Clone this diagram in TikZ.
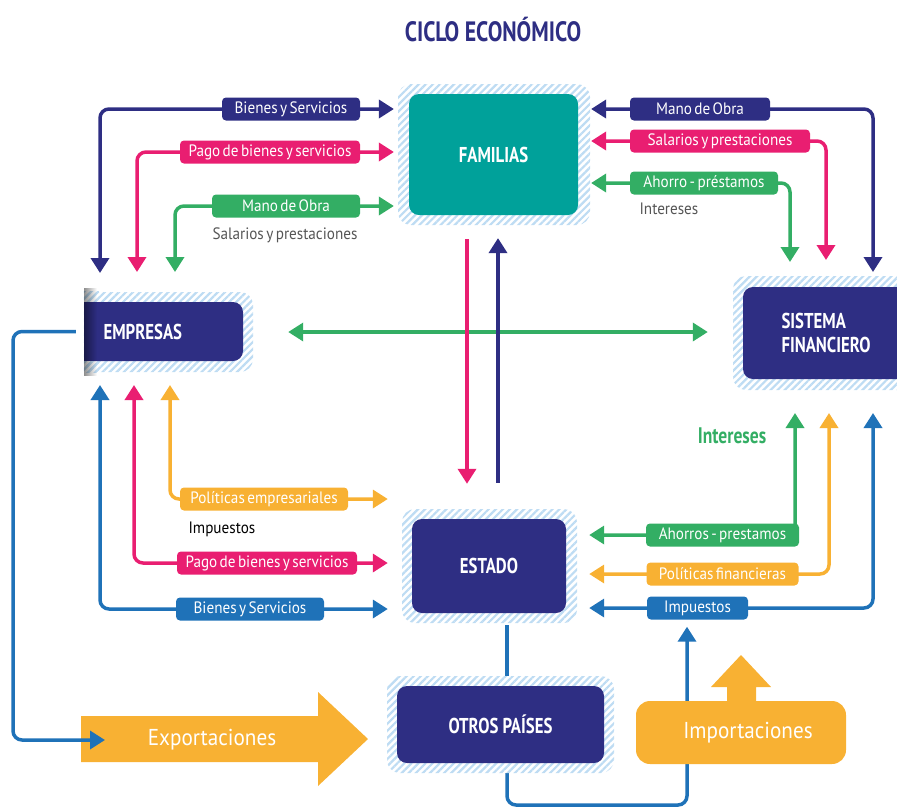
\documentclass[tikz,border=0pt]{standalone}
\usepackage{fontspec}
\setmainfont{PT Sans}
\newfontfamily\tagfont[FakeStretch=0.92,WordSpace=0.6]{PT Sans}
\newfontfamily\headfont[FakeStretch=0.78]{PT Sans}
\usetikzlibrary{arrows.meta,patterns.meta,fadings,positioning}
\definecolor{navy}{RGB}{46,46,131}
\definecolor{famteal}{RGB}{0,161,154}
\definecolor{cpink}{RGB}{233,30,113}
\definecolor{cgreen}{RGB}{51,174,100}
\definecolor{cyellow}{RGB}{248,177,51}
\definecolor{cblue}{RGB}{31,114,184}
\definecolor{hatchblue}{RGB}{190,220,243}
\definecolor{txtgray}{RGB}{85,85,85}
\pgfdeclarelayer{background}
\pgfsetlayers{background,main}

\begin{document}
\begin{tikzpicture}[x=1pt, y=-1pt, >={Triangle[length=15pt,width=18pt]},
   hatch/.style={rounded corners=13pt, inner sep=0pt, pattern color=hatchblue,
                 pattern={Lines[angle=45,distance=5pt,line width=2.2pt]}},
   sector/.style={rounded corners=10pt, fill=navy, text=white, inner sep=0pt,
                  font=\headfont\bfseries\fontsize{21.5}{24}\selectfont},
   tag/.style={rounded corners=4pt, text=white, inner sep=0pt, minimum height=23pt,
               font=\tagfont\fontsize{16.5}{18}\selectfont},
   note/.style={font=\tagfont\fontsize{16.5}{18}\selectfont},
   flow/.style={line width=3.5pt, rounded corners=9pt}]

\useasboundingbox (0,0) rectangle (897,807);
\clip (0,0) rectangle (897,807);

\node[text=navy, font=\headfont\bfseries\fontsize{28}{30}\selectfont] (title) at (493,30) {CICLO ECONÓMICO};

% sectores
\node[hatch, minimum width=192pt, minimum height=141pt] (famH) at (494,154.5) {};
\node[sector, fill=famteal, minimum width=169pt, minimum height=121pt] (fam) at (493.5,154.5) {FAMILIAS};

\node[hatch, minimum width=169pt, minimum height=80pt] (empH) at (168.5,332) {};
\fill[pattern={Lines[angle=45,distance=5pt,line width=2.2pt]}, pattern color=hatchblue]
   (empH.north west) rectangle ([xshift=15pt]empH.south west);
\node[sector, minimum width=159pt, minimum height=59pt, text width=120pt, align=left] (emp) at (163.5,331.5) {EMPRESAS};
\fill[navy] (emp.north west) rectangle ([xshift=12pt]emp.south west);
\fill[black, opacity=0.45, path fading=east] ([yshift=4pt]empH.north west) rectangle ([xshift=13pt,yshift=-4pt]empH.south west);

\node[hatch, minimum width=187pt, minimum height=114pt] (sisH) at (826.5,333) {};
\node[sector, minimum width=167pt, minimum height=92pt, text width=90pt, align=left] (sis) at (826.5,333) {SISTEMA\\FINANCIERO};

\node[hatch, minimum width=175pt, minimum height=114pt] (estH) at (489.5,566) {};
\node[sector, minimum width=154pt, minimum height=94pt] (est) at (489,566) {ESTADO};

\node[hatch, minimum width=227pt, minimum height=97pt] (otrH) at (500.5,724.5) {};
\node[sector, minimum width=207pt, minimum height=77pt] (otr) at (500.5,724.5) {OTROS PAÍSES};

% etiquetas de los flujos
\node[tag, fill=navy, minimum width=138pt] (lBSa) at (291,109) {Bienes y Servicios};
\node[tag, fill=cpink, minimum width=180pt] (lPGa) at (270,152) {Pago de bienes y servicios};
\node[tag, fill=cgreen, minimum width=148pt] (lMOa) at (286,206) {Mano de Obra};
\node[note, text=txtgray] (nSal) at (285,235) {Salarios y prestaciones};

\node[tag, fill=navy, minimum width=140pt] (lMOb) at (700,109) {Mano de Obra};
\node[tag, fill=cpink, minimum width=180pt] (lSPb) at (720,141) {Salarios y prestaciones};
\node[tag, fill=cgreen, minimum width=148pt] (lAPb) at (704,183) {Ahorro - préstamos};
\node[note, text=txtgray, anchor=west] (nInt) at (636,209) {Intereses};

\node[tag, fill=cyellow, minimum width=168pt] (lPE) at (264,499) {Políticas empresariales};
\node[note, text=black, anchor=west] (nImp) at (185,529) {Impuestos};
\node[tag, fill=cpink, minimum width=180pt] (lPGc) at (267,563) {Pago de bienes y servicios};
\node[tag, fill=cblue, minimum width=148pt] (lBSc) at (250,609) {Bienes y Servicios};

\node[tag, fill=cgreen, minimum width=153pt] (lAP) at (722.5,535) {Ahorros - prestamos};
\node[tag, fill=cyellow, minimum width=152pt] (lPF) at (722.5,574) {Políticas financieras};
\node[tag, fill=cblue, minimum width=101pt] (lIM) at (697.5,608) {Impuestos};
\node[text=cgreen, font=\headfont\bfseries\fontsize{22.5}{24}\selectfont] (nIntB) at (732,436) {Intereses};

% exportaciones / importaciones
\fill[cyellow] (81,716) -- (318,716) -- (318,692) -- (368,739) -- (318,786) -- (318,762) -- (81,762) -- cycle;
\node[text=white, font=\tagfont\fontsize{23}{26}\selectfont] (expo) at (212,740) {Exportaciones};
\node[fill=cyellow, rounded corners=14pt, minimum width=210pt, minimum height=63pt, text=white,
      font=\tagfont\fontsize{23}{26}\selectfont] (impo) at (741,732.5) {\hspace{14pt}Importaciones};
\fill[cyellow] (727,702) -- (727,687) -- (711,687) -- (741,655) -- (771,687) -- (756,687) -- (756,702) -- cycle;

% puntas libres
\coordinate (tBSa) at (100,273);
\coordinate (tPGa) at (137,272);
\coordinate (tMOa) at (175,272);
\coordinate (tMOb) at (873,272);
\coordinate (tSPb) at (826,260);
\coordinate (tAPb) at (790,262);
\coordinate (tPE) at (170,385);
\coordinate (tPGc) at (134,385);
\coordinate (tBSc) at (100,385);
\coordinate (tAP) at (795,413);
\coordinate (tPF) at (829,413);
\coordinate (tIM) at (873,413);
\coordinate (xPk) at (467,0);
\coordinate (xNv) at (498,0);
\coordinate (xOt) at (507,0);
\coordinate (cImp) at (687,805);
\coordinate (cExp) at (13,740);
\coordinate (tExp) at (105,740);

\begin{pgfonlayer}{background}
\draw[flow, navy, <->, shorten >=3pt] (tBSa) |- (lBSa.center) -- (lBSa.center -| famH.west);
\draw[flow, cpink, <->, shorten >=3pt] (tPGa) |- (lPGa.center) -- (lPGa.center -| famH.west);
\draw[flow, cgreen, <->, shorten >=3pt] (tMOa) |- (lMOa.center) -- (lMOa.center -| famH.west);

\draw[flow, navy, <->] (lMOb.center -| famH.east) -- (lMOb.center) -| (tMOb);
\draw[flow, cpink, <->] (lSPb.center -| famH.east) -- (lSPb.center) -| (tSPb);
\draw[flow, cgreen, <->] (lAPb.center -| famH.east) -- (lAPb.center) -| (tAPb);

\draw[flow, cgreen, <->, shorten <=35pt, shorten >=25pt] (empH.east) -- (empH.east -| sisH.west);
\draw[flow, cpink, ->, shorten <=13pt, shorten >=25pt] (famH.south -| xPk) -- (estH.north -| xPk);
\draw[flow, navy, ->, shorten <=26pt, shorten >=12pt] (estH.north -| xNv) -- (famH.south -| xNv);

\draw[flow, cyellow, <->, shorten >=14pt] (tPE) |- (lPE.center) -- (lPE.center -| estH.west);
\draw[flow, cpink, <->, shorten >=14pt] (tPGc) |- (lPGc.center) -- (lPGc.center -| estH.west);
\draw[flow, cblue, <->, shorten >=14pt] (tBSc) |- (lBSc.center) -- (lBSc.center -| estH.west);

\draw[flow, cgreen, <->, shorten <=12pt] (lAP.center -| estH.east) -- (lAP.center) -| (tAP);
\draw[flow, cyellow, <->, shorten <=12pt] (lPF.center -| estH.east) -- (lPF.center) -| (tPF);
\draw[flow, cblue, <->, shorten <=12pt] (lIM.center -| estH.east) -- (lIM.center) -| (tIM);

\draw[flow, cblue, shorten <=2pt] (estH.south -| xOt) -- (otrH.north -| xOt);
\draw[flow, cblue, ->, shorten >=7pt] (otrH.south -| xOt) |- (cImp) -- (lIM.south -| cImp);
\end{pgfonlayer}

\draw[flow, cblue, ->, shorten <=8pt] (emp.west) -| (cExp) -- (tExp);
\end{tikzpicture}
\end{document}
